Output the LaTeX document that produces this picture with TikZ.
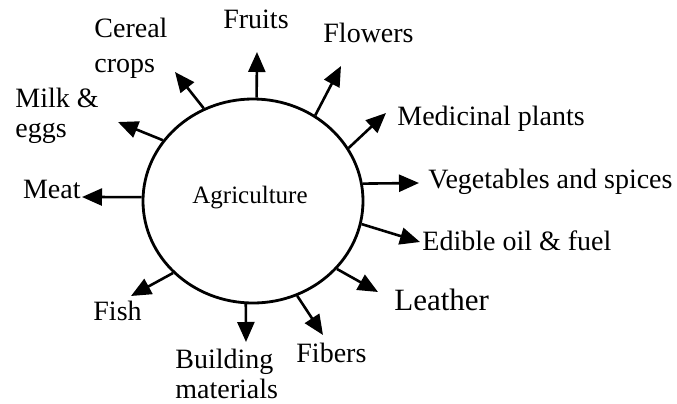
\documentclass[tikz,border=0pt]{standalone}
\usepackage{fontspec}
\setmainfont{Liberation Serif}
\usetikzlibrary{shapes.geometric, arrows.meta}

\begin{document}
\begin{tikzpicture}[x=0.5pt, y=-0.5pt,
    hub/.style={ellipse, draw=black, line width=1.4pt, minimum width=110pt, minimum height=102pt, inner sep=0pt},
    lbl/.style={inner sep=0pt, font=\fontsize{14}{15}\selectfont, align=left},
    arrow/.style={-{Triangle[length=10pt, width=8.5pt]}, line width=1.3pt}
]
\useasboundingbox (0,0) rectangle (677,403);

\node[hub] (agri) at (253,201) {};
\node[inner sep=0pt, font=\fontsize{12.5}{14}\selectfont, anchor=base] (agritext) at (250,203) {Agriculture};

% outputs, clockwise from the top
\node[lbl, anchor=base] (fruits) at (256,28) {Fruits};
\node[lbl, anchor=base west] (flowers) at (323,42) {Flowers};
\node[lbl, anchor=base west] (medic) at (397,125) {Medicinal plants};
\node[lbl, anchor=base west] (veg) at (428,188) {Vegetables and spices};
\node[lbl, anchor=base west] (oil) at (422,250) {Edible oil \& fuel};
\node[lbl, font=\fontsize{15.5}{17}\selectfont, anchor=base west] (leather) at (394,310) {Leather};
\node[lbl, anchor=base west] (fibers) at (296,362) {Fibers};
\node[lbl, anchor=base west] (build) at (175,398) {Building\\materials};
\node[lbl, anchor=base west] (fish) at (93,320) {Fish};
\node[lbl, anchor=base east] (meat) at (81,198) {Meat};
\node[lbl, anchor=base west] (milk) at (15,137) {Milk \&\\eggs};
\node[lbl, font=\fontsize{14}{17.5}\selectfont, anchor=base west] (cereal) at (94,72) {Cereal\\crops};

% arrow tips
\coordinate (tFruits) at (257,52);
\coordinate (tFlowers) at (341,66);
\coordinate (tMedic) at (386,113);
\coordinate (tVeg) at (419,183);
\coordinate (tOil) at (420,242);
\coordinate (tLeather) at (378,292);
\coordinate (tFibers) at (323,335);
\coordinate (tBuild) at (246,342);
\coordinate (tFish) at (131,296);
\coordinate (tMeat) at (82,197);
\coordinate (tMilk) at (118,122);
\coordinate (tCereal) at (175,72);

\draw[arrow] (agri.88) -- (tFruits);
\draw[arrow] (agri.54) -- (tFlowers);
\draw[arrow] (agri.29) -- (tMedic);
\draw[arrow] (agri.9.3) -- (tVeg);
\draw[arrow] (agri.-12.5) -- (tOil);
\draw[arrow] (agri.-39.7) -- (tLeather);
\draw[arrow] (agri.-65.2) -- (tFibers);
\draw[arrow] (agri.-94) -- (tBuild);
\draw[arrow] (agri.-138.8) -- (tFish);
\draw[arrow] (agri.178) -- (tMeat);
\draw[arrow] (agri.146.5) -- (tMilk);
\draw[arrow] (agri.118.8) -- (tCereal);

\end{tikzpicture}
\end{document}
